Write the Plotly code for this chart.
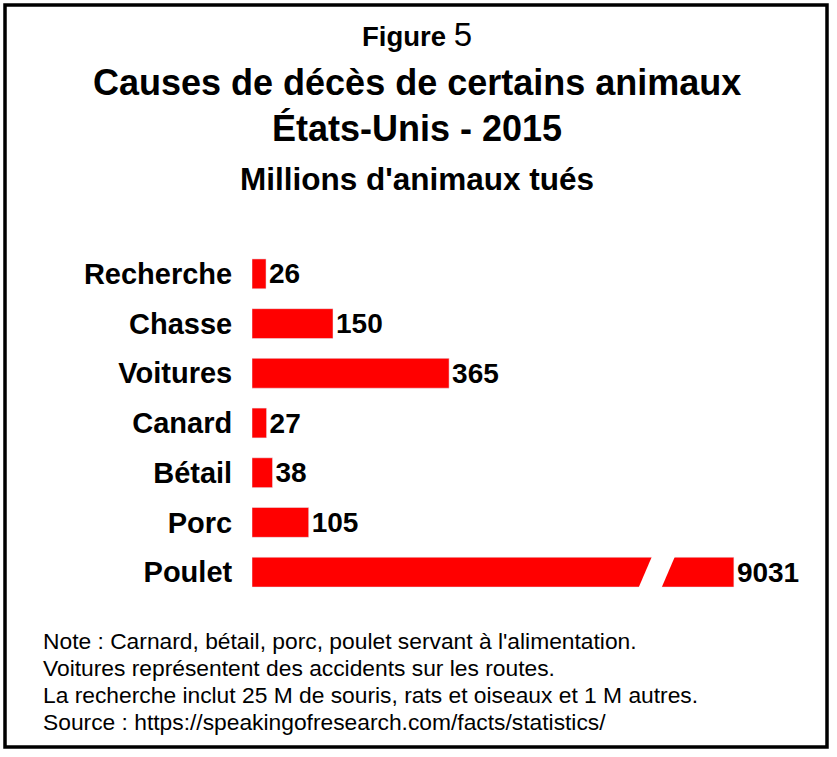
import plotly.graph_objects as go

# Data (millions of animals killed, US 2015)
categories = ["Recherche", "Chasse", "Voitures", "Canard", "Bétail", "Porc", "Poulet"]
values = [26, 150, 365, 27, 38, 105, 9031]

title_lines = ["Causes de décès de certains animaux", "États-Unis - 2015"]
subtitle = "Millions d'animaux tués"
notes = [
    "Note : Carnard, bétail, porc, poulet servant à l'alimentation.",
    "Voitures représentent des accidents sur les routes.",
    "La recherche inclut 25 M de souris, rats et oiseaux et 1 M autres.",
    "Source : https://speakingofresearch.com/facts/statistics/",
]

W, H = 837, 757
FONT = "Liberation Sans, Arial, sans-serif"
RED = "#FF0000"

def px(x):
    return x / W

def py(y):
    return 1 - y / H

# broken x axis: left part 0..LEFT_MAX, right part starts at RIGHT_MIN
PX_PER_UNIT = 0.54
BAR_X0 = 252
BREAK_PX = 668
LEFT_MAX = (BREAK_PX - BAR_X0) / PX_PER_UNIT
RIGHT_MIN = 8909
RIGHT_MAX = RIGHT_MIN + (W - BREAK_PX) / PX_PER_UNIT

left_text = [str(v) if v < LEFT_MAX else "" for v in values]
big_cats = [c for c, v in zip(categories, values) if v > LEFT_MAX]
big_vals = [v for v in values if v > LEFT_MAX]

fig = go.Figure()
fig.add_trace(go.Bar(
    y=categories, x=values, orientation="h",
    marker_color=RED, text=left_text, textposition="outside",
    textangle=0, constraintext="none",
    textfont=dict(family=FONT, size=28, color="black", weight="bold"),
    xaxis="x", yaxis="y", hoverinfo="x+y",
))
fig.add_trace(go.Bar(
    y=big_cats, x=big_vals, orientation="h",
    marker_color=RED, text=[str(v) for v in big_vals], textposition="outside",
    textangle=0, constraintext="none",
    textfont=dict(family=FONT, size=28, color="black", weight="bold"),
    xaxis="x2", yaxis="y", hoverinfo="x+y",
))

fig.update_layout(
    width=W, height=H,
    margin=dict(l=0, r=0, t=0, b=0),
    paper_bgcolor="white", plot_bgcolor="white",
    showlegend=False, bargap=0.4,
    font=dict(family=FONT, color="black"),
    xaxis=dict(domain=[px(BAR_X0), px(BREAK_PX)], range=[0, LEFT_MAX],
               visible=False, anchor="y"),
    xaxis2=dict(domain=[px(BREAK_PX), 1.0], range=[RIGHT_MIN, RIGHT_MAX],
                visible=False, anchor="y"),
    yaxis=dict(domain=[py(597), py(249)], autorange="reversed",
               categoryorder="array", categoryarray=categories,
               showgrid=False, zeroline=False, showline=False,
               ticks="outside", ticklen=13, tickcolor="rgba(0,0,0,0)",
               tickfont=dict(family=FONT, size=29, color="black", weight="bold")),
)

# white slanted gap across the broken bar
bar_top, bar_bot = 554, 589
fig.add_shape(type="path", xref="paper", yref="paper",
              path=(f"M {px(653)},{py(bar_top)} L {px(676)},{py(bar_top)} "
                    f"L {px(661)},{py(bar_bot)} L {px(638)},{py(bar_bot)} Z"),
              fillcolor="white", line=dict(width=0), layer="above")

# frame
fig.add_shape(type="rect", xref="paper", yref="paper",
              x0=px(5), x1=px(827), y0=py(747), y1=py(5),
              line=dict(color="black", width=3.5))

cx = px(416.5)
fig.add_annotation(x=cx, y=py(34), xref="paper", yref="paper", showarrow=False,
                   yanchor="middle",
                   text="<b>Figure</b> <span style='font-size:33px'>5</span>",
                   font=dict(size=27.5, family=FONT, color="black"))
fig.add_annotation(x=cx, y=py(83), xref="paper", yref="paper", showarrow=False,
                   yanchor="middle", text=f"<b>{title_lines[0]}</b>",
                   font=dict(size=36, family=FONT, color="black"))
fig.add_annotation(x=cx, y=py(129), xref="paper", yref="paper", showarrow=False,
                   yanchor="middle", text=f"<b>{title_lines[1]}</b>",
                   font=dict(size=36, family=FONT, color="black"))
fig.add_annotation(x=cx, y=py(179), xref="paper", yref="paper", showarrow=False,
                   yanchor="middle", text=f"<b>{subtitle}</b>",
                   font=dict(size=31.5, family=FONT, color="black"))

for i, line in enumerate(notes):
    fig.add_annotation(x=px(41), y=py(641 + 27 * i), xref="paper", yref="paper",
                       showarrow=False, xanchor="left", yanchor="middle",
                       align="left", text=line,
                       font=dict(size=22.8, family=FONT, color="black"))

fig.write_html("out.html", config={"displayModeBar": False},
               post_script="document.body.style.margin='0';")
